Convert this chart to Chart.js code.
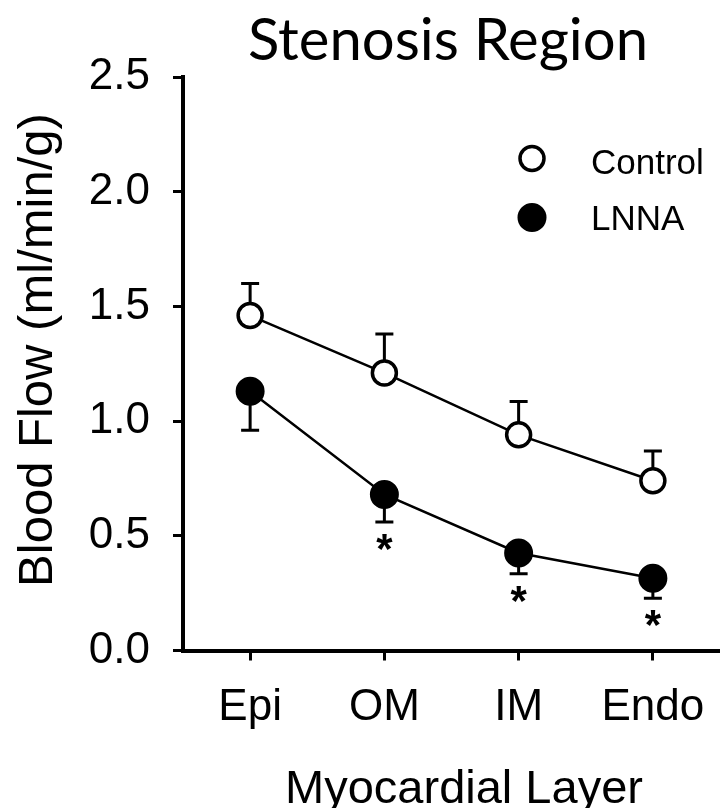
<!DOCTYPE html>
<html><head><meta charset="utf-8">
<script src="https://cdn.jsdelivr.net/npm/chart.js@4.4.1/dist/chart.umd.min.js"></script>
<style>html,body{margin:0;padding:0;background:#fff;overflow:hidden}#wrap{width:720px;height:808px}canvas{display:block}</style>
</head><body><div id="wrap"><canvas id="c" width="720" height="808"></canvas></div>
<script>
const categories = ['Epi', 'OM', 'IM', 'Endo'];
const controlMean = [1.46, 1.21, 0.94, 0.74];
const controlSEM = [0.14, 0.17, 0.145, 0.13];
const lnnaMean = [1.13, 0.68, 0.425, 0.315];
const lnnaSEM = [0.17, 0.12, 0.09, 0.087];
const lnnaSignificant = [false, true, true, true];
const yMin = 0, yMax = 2.5, yStep = 0.5;
const titleText = 'Stenosis Region';
const yTitleText = 'Blood Flow (ml/min/g)';
const xTitleText = 'Myocardial Layer';
const seriesNames = ['Control', 'LNNA'];

const SANS = "'Liberation Sans', Arial, sans-serif";

const errorBars = {
  id: 'errorBars',
  beforeDatasetsDraw(chart) {
    const ctx = chart.ctx, y = chart.scales.y;
    chart.data.datasets.forEach((ds, i) => {
      const meta = chart.getDatasetMeta(i);
      ctx.save();
      ctx.strokeStyle = '#000';
      ctx.lineWidth = 3;
      meta.data.forEach((pt, j) => {
        const end = ds.data[j] + ds.errDir * ds.err[j];
        const py = y.getPixelForValue(end);
        ctx.beginPath();
        ctx.moveTo(pt.x, pt.y);
        ctx.lineTo(pt.x, py);
        ctx.moveTo(pt.x - 9, py);
        ctx.lineTo(pt.x + 9, py);
        ctx.stroke();
      });
      ctx.restore();
    });
  }
};

const extras = {
  id: 'extras',
  afterDraw(chart) {
    const ctx = chart.ctx, y = chart.scales.y;
    ctx.save();
    // asterisks
    const meta = chart.getDatasetMeta(1);
    ctx.fillStyle = '#000';
    const af = 42;
    ctx.font = 'bold ' + af + 'px ' + SANS;
    ctx.textAlign = 'center';
    ctx.textBaseline = 'alphabetic';
    meta.data.forEach((pt, j) => {
      if (!lnnaSignificant[j]) return;
      const by = y.getPixelForValue(lnnaMean[j] - lnnaSEM[j]);
      ctx.fillText('*', pt.x, by + 17 + 0.57 * af);
    });
    // title
    ctx.font = '58px Lato, sans-serif';
    ctx.fillText(titleText, 448, 60);
    // axis titles
    ctx.font = '47px ' + SANS;
    ctx.fillText(xTitleText, 464, 803);
    ctx.save();
    ctx.translate(38, 350);
    ctx.rotate(-Math.PI / 2);
    ctx.textBaseline = 'middle';
    ctx.font = '49px ' + SANS;
    ctx.fillText(yTitleText, 0, 0);
    ctx.restore();
    // legend
    const ds = chart.data.datasets;
    const rows = [{y: 158.5, base: 174}, {y: 217.5, base: 230}];
    ds.forEach((d, i) => {
      ctx.beginPath();
      ctx.arc(532, rows[i].y, d.pointRadius, 0, Math.PI * 2);
      ctx.fillStyle = d.pointBackgroundColor;
      ctx.fill();
      ctx.lineWidth = d.pointBorderWidth;
      ctx.strokeStyle = '#000';
      ctx.stroke();
      ctx.fillStyle = '#000';
      ctx.textAlign = 'left';
      ctx.font = '35px ' + SANS;
      ctx.fillText(d.label, 591, rows[i].base);
    });
    ctx.restore();
  }
};

new Chart(document.getElementById('c'), {
  type: 'line',
  data: {
    labels: categories,
    datasets: [
      {
        label: seriesNames[0], data: controlMean, err: controlSEM, errDir: 1,
        borderColor: '#000', borderWidth: 2.5, tension: 0,
        pointRadius: 12, pointBorderWidth: 3.5,
        pointBackgroundColor: '#fff', pointBorderColor: '#000'
      },
      {
        label: seriesNames[1], data: lnnaMean, err: lnnaSEM, errDir: -1,
        borderColor: '#000', borderWidth: 2.5, tension: 0,
        pointRadius: 13, pointBorderWidth: 3,
        pointBackgroundColor: '#000', pointBorderColor: '#000'
      }
    ]
  },
  options: {
    responsive: false,
    devicePixelRatio: 1,
    animation: false,
    layout: { autoPadding: false, padding: { top: 77, left: 0, right: 0, bottom: 0 } },
    plugins: { legend: { display: false }, title: { display: false }, tooltip: { enabled: false } },
    scales: {
      x: {
        type: 'category', offset: true,
        grid: { drawOnChartArea: false, drawTicks: true, tickLength: 10, tickWidth: 3, tickColor: '#000' },
        border: { display: true, color: '#000', width: 4 },
        ticks: { color: '#000', font: { family: SANS, size: 44, lineHeight: 2.155 }, padding: 0, maxRotation: 0 },
        afterFit(s) { s.height = 157.5; }
      },
      y: {
        min: yMin, max: yMax,
        grid: { drawOnChartArea: false, drawTicks: true, tickLength: 10, tickWidth: 3, tickColor: '#000' },
        border: { display: true, color: '#000', width: 4 },
        ticks: { stepSize: yStep, color: '#000', font: { family: SANS, size: 44 }, padding: 23,
          callback: v => Number(v).toFixed(1) },
        afterFit(s) { s.width = 183; }
      }
    }
  },
  plugins: [errorBars, extras]
});
</script>
</body></html>
